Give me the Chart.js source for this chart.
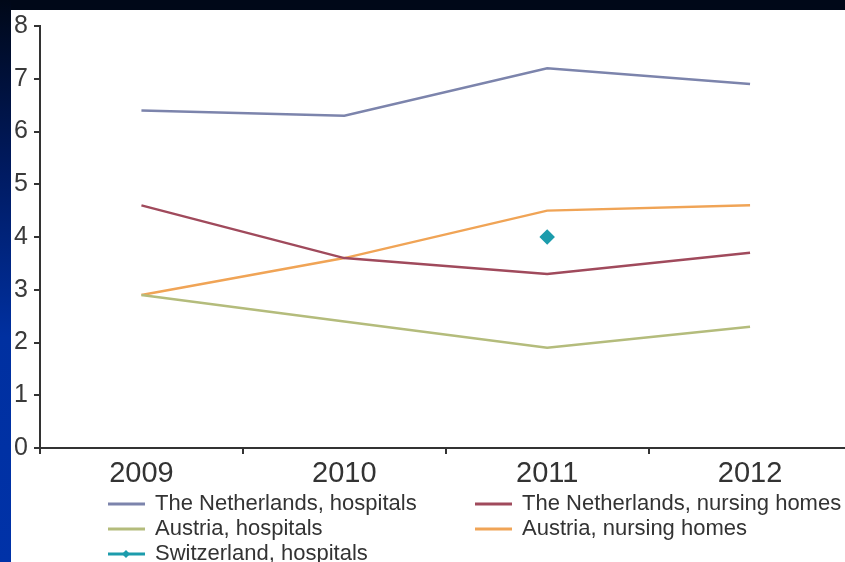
<!DOCTYPE html>
<html>
<head>
<meta charset="utf-8">
<script src="https://cdn.jsdelivr.net/npm/chart.js@4"></script>
<style>
  html, body { margin: 0; padding: 0; overflow: hidden; background: #000818; }
  #wrap { position: relative; width: 845px; height: 562px; overflow: hidden; background: #fff; }
  #topbar { position: absolute; left: 0; top: 0; width: 845px; height: 10px; background: #000818; z-index: 2; }
  #leftbar { position: absolute; left: 0; top: 0; width: 11px; height: 562px; z-index: 2;
    background: linear-gradient(to bottom, #000818 0%, #001a60 30%, #0030a0 60%, #0032a8 100%); }
  canvas { position: absolute; left: 0; top: 0; }
</style>
</head>
<body>
<div id="wrap">
  <canvas id="chart" width="860" height="562"></canvas>
  <div id="topbar"></div>
  <div id="leftbar"></div>
</div>
<script>
const years = ['2009', '2010', '2011', '2012'];
const nlHospitals = [6.4, 6.3, 7.2, 6.9];
const nlNursing = [4.6, 3.6, 3.3, 3.7];
const atHospitals = [2.9, 2.4, 1.9, 2.3];
const atNursing = [2.9, 3.6, 4.5, 4.6];
const chHospitals = [null, null, 4.0, null];
const yTicks = [0, 1, 2, 3, 4, 5, 6, 7, 8];

const textColor = '#333';
const fontFamily = '"Liberation Sans", Arial, sans-serif';

// two-column legend like the original figure
const legendPlugin = {
    id: 'figLegend',
    afterDraw(chart) {
        const ctx = chart.ctx;
        const slots = [[108, 504], [475, 504], [108, 529], [475, 529], [108, 554]];
        ctx.save();
        ctx.font = '22px ' + fontFamily;
        ctx.textBaseline = 'middle';
        ctx.textAlign = 'left';
        chart.data.datasets.forEach((ds, i) => {
            const [x, y] = slots[i];
            ctx.strokeStyle = ds.borderColor;
            ctx.lineWidth = 3;
            ctx.beginPath();
            ctx.moveTo(x, y);
            ctx.lineTo(x + 37, y);
            ctx.stroke();
            if (ds.showLine === false) {
                ctx.fillStyle = ds.borderColor;
                ctx.beginPath();
                ctx.moveTo(x + 18, y - 4);
                ctx.lineTo(x + 22, y);
                ctx.lineTo(x + 18, y + 4);
                ctx.lineTo(x + 14, y);
                ctx.closePath();
                ctx.fill();
            }
            ctx.fillStyle = textColor;
            ctx.fillText(ds.label, x + 47, y);
        });
        ctx.restore();
    }
};

new Chart(document.getElementById('chart'), {
    type: 'line',
    data: {
        labels: years,
        datasets: [
            { label: 'The Netherlands, hospitals', data: nlHospitals, borderColor: '#7c84ac' },
            { label: 'The Netherlands, nursing homes', data: nlNursing, borderColor: '#a04a5c' },
            { label: 'Austria, hospitals', data: atHospitals, borderColor: '#b4bc7c' },
            { label: 'Austria, nursing homes', data: atNursing, borderColor: '#f0a456' },
            { label: 'Switzerland, hospitals', data: chHospitals, borderColor: '#1c9cac',
              backgroundColor: '#1c9cac', showLine: false, pointStyle: 'rectRot', pointRadius: 6 }
        ].map(ds => Object.assign({ borderWidth: 2.5, pointRadius: 0, tension: 0, fill: false }, ds))
    },
    options: {
        responsive: false,
        animation: false,
        devicePixelRatio: 1,
        layout: { padding: { top: 26, left: 0, right: 7, bottom: 0 } },
        plugins: { legend: { display: false }, tooltip: { enabled: false } },
        scales: {
            x: {
                offset: true,
                grid: { offset: true, drawOnChartArea: false, color: '#333', lineWidth: 2, tickLength: 6 },
                border: { color: '#333', width: 2 },
                ticks: { color: textColor, font: { family: fontFamily, size: 29 }, padding: 3 },
                afterFit(scale) { scale.height = 114; }
            },
            y: {
                min: 0,
                max: 8,
                afterBuildTicks(scale) { scale.ticks = yTicks.map(v => ({ value: v })); },
                grid: { drawOnChartArea: false, color: '#333', lineWidth: 2, tickLength: 6 },
                border: { color: '#333', width: 2 },
                ticks: { color: '#3a3a3a', font: { family: fontFamily, size: 25 }, padding: 6 },
                afterFit(scale) { scale.width = 40; }
            }
        }
    },
    plugins: [legendPlugin]
});
</script>
</body>
</html>
